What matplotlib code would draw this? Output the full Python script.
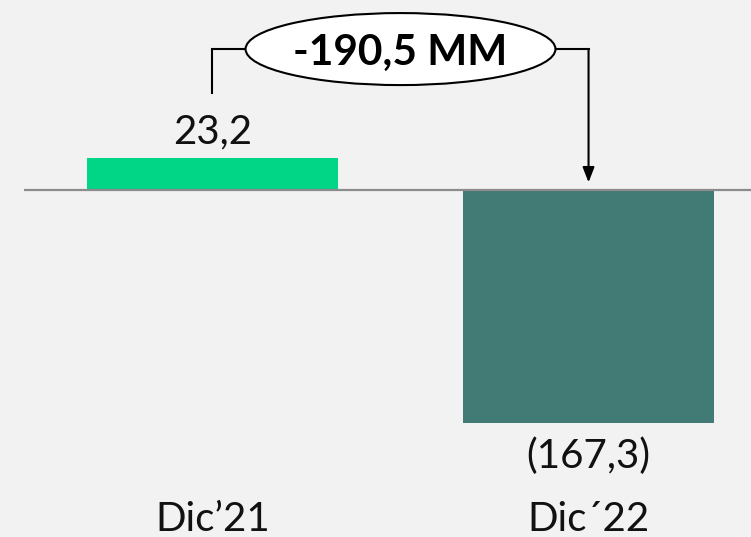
import matplotlib
matplotlib.use("Agg")
import matplotlib.pyplot as plt
from matplotlib.patches import Ellipse

# data
categorias = ["Dic\u201921", "Dic\u00b422"]
valores = [23.2, -167.3]
etiquetas = ["23,2", "(167,3)"]
variacion = "-190,5 MM"

colores = ["#00D686", "#427A76"]
fondo = "#F2F2F2"

plt.rcParams['font.family'] = ['Lato', 'DejaVu Sans']

fig = plt.figure(figsize=(7.51, 5.37), dpi=100, facecolor=fondo)
ax = fig.add_axes([0, 0, 1, 1])
ax.set_facecolor(fondo)

x = list(range(len(categorias)))
ax.bar(x, valores, width=0.667, color=colores, zorder=2)
ax.hlines(0, -0.5, 1.45, color="#8C8C8C", lw=1.6, zorder=3)

ax.set_xlim(-0.565, 1.432)
ax.set_ylim(-249.6, 136.7)
ax.axis("off")

fs = 29
# value labels
ax.text(x[0], valores[0] + 10.5, etiquetas[0], ha="center", va="baseline",
        fontsize=fs, color="#111111")
ax.text(x[1], valores[1] - 33, etiquetas[1], ha="center", va="baseline",
        fontsize=fs, color="#111111")

# category labels
for xi, cat in zip(x, categorias):
    ax.text(xi, -245.5, cat, ha="center", va="baseline",
            fontsize=fs, color="#111111")

# bracket with difference
y_top = 101.4
ell_w, ell_h = 0.824, 51.8
xm = (x[0] + x[1]) / 2
ax.plot([x[0], x[0], xm - ell_w / 2], [69.8, y_top, y_top], color="black", lw=1.5,
        solid_joinstyle="miter", zorder=4)
ax.plot([xm + ell_w / 2, x[1]], [y_top, y_top], color="black", lw=1.5,
        solid_capstyle="projecting", zorder=4)
ax.annotate("", xy=(x[1], 5.5), xytext=(x[1], y_top),
            arrowprops=dict(arrowstyle="-|>,head_length=0.9,head_width=0.35",
                            color="black", lw=1.5, shrinkA=0, shrinkB=0), zorder=4)
ax.add_patch(Ellipse((xm, y_top), ell_w, ell_h, facecolor="white",
                     edgecolor="black", lw=1.5, zorder=5))
ax.text(xm, y_top, variacion, ha="center", va="center_baseline", fontsize=30.5,
        fontweight="bold", color="black", zorder=6)

fig.savefig("out.png", dpi=100, facecolor=fondo)
